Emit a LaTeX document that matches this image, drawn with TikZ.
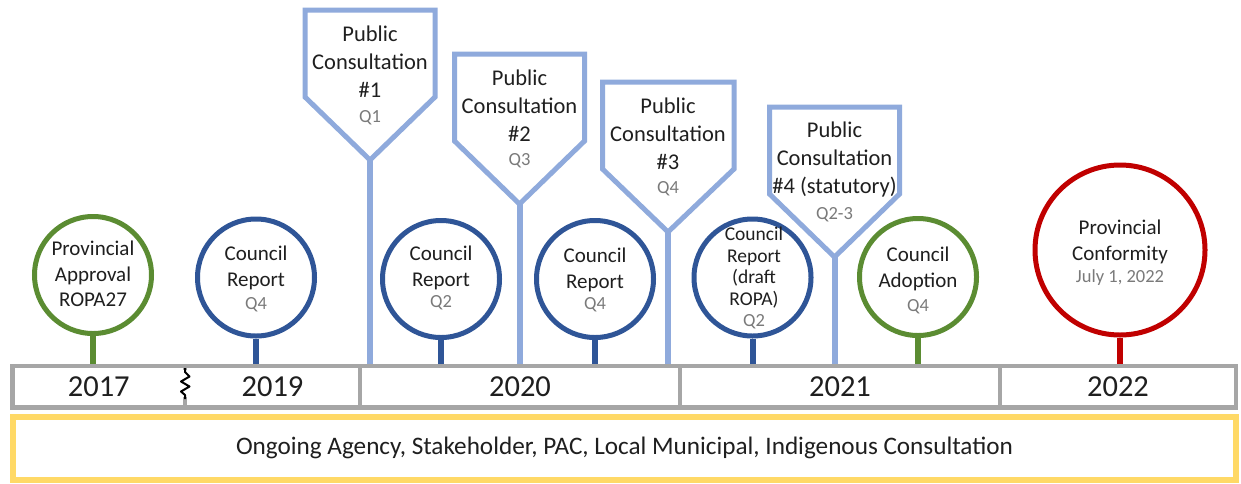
\documentclass[tikz,border=0pt]{standalone}
\usepackage{fontspec}
\setmainfont{Carlito}
\definecolor{cgreen}{HTML}{5B8C32}
\definecolor{cblue}{HTML}{2F5597}
\definecolor{clight}{HTML}{8FAADC}
\definecolor{cred}{HTML}{C00000}
\definecolor{cgray}{HTML}{A6A6A6}
\definecolor{cyellow}{HTML}{FFD966}
\definecolor{ctext}{HTML}{1F1F1F}
\definecolor{csub}{HTML}{7A7A7A}
\begin{document}
\begin{tikzpicture}[x=1pt,y=-1pt,
 ev/.style={circle, draw=#1, line width=5pt, minimum size=117pt, inner sep=0pt, fill=white},
 stemline/.style={draw=#1, line width=6pt},
 pcbox/.style={draw=clight, line width=5pt, fill=white, line join=miter},
 yr/.style={draw=cgray, line width=4.5pt, rectangle, inner sep=0pt, minimum height=41.5pt, font=\fontsize{30.5}{32}\selectfont, text=ctext},
 mt/.style={font=\fontsize{21}{25.5}\selectfont, text=ctext, align=center, inner sep=0pt},
 smt/.style={font=\fontsize{19.5}{21.7}\selectfont, text=ctext, align=center, inner sep=0pt},
 pt/.style={font=\fontsize{22.5}{28}\selectfont, text=ctext, align=center, inner sep=0pt},
 st/.style={font=\fontsize{18.5}{20}\selectfont, text=csub, inner sep=0pt},
]
\useasboundingbox[fill=white] (0,0) rectangle (1241,483);

% year bar
\node[yr, minimum width=172.5pt] (y17) at (98.75,386.75) {2017};
\node[yr, minimum width=175pt] (y19) at (272.5,386.75) {2019};
\node[yr, minimum width=320pt] (y20) at (520,386.75) {2020};
\node[yr, minimum width=320pt] (y21) at (840,386.75) {2021};
\node[yr, minimum width=236pt] (y22) at (1118,386.75) {2022};
% break mark
\fill[white] (182,370) rectangle (188,397);
\draw[black, line width=2pt, line join=round]
  (185,368) -- (185,372) -- (189.5,376.5) -- (181,381.5) -- (189.5,386.5) -- (181,391.5) -- (185,395) -- (185,399);

% ongoing consultation bar
\node[draw=cyellow, line width=6pt, rectangle, minimum width=1223pt, minimum height=63pt, inner sep=0pt,
      font=\fontsize{25.2}{28}\selectfont, text=ctext] (ong) at (624.5,448)
  {Ongoing Agency, Stakeholder, PAC, Local Municipal, Indigenous Consultation};

% public consultation markers
\draw[pcbox] (305,10) -- (435,10) -- (435,97) -- (370,160) -- (305,97) -- cycle;
\coordinate (p1tip) at (370,160);
\draw[pcbox] (454.5,54) -- (584.5,54) -- (584.5,141) -- (519.5,204) -- (454.5,141) -- cycle;
\coordinate (p2tip) at (519.5,204);
\draw[pcbox] (602.5,82) -- (734,82) -- (734,169) -- (668,232) -- (602.5,169) -- cycle;
\coordinate (p3tip) at (668,232);
\draw[pcbox] (769.5,107) -- (899.5,107) -- (899.5,194) -- (834.5,257) -- (769.5,194) -- cycle;
\coordinate (p4tip) at (834.5,257);

\node[pt] (p1t) at (370,62) {Public\\Consultation\\\#1};
\node[st] (p1q) at (370,118) {Q1};
\node[pt] (p2t) at (519.5,106) {Public\\Consultation\\\#2};
\node[st] (p2q) at (519.5,161) {Q3};
\node[pt] (p3t) at (668,134) {Public\\Consultation\\\#3};
\node[st] (p3q) at (668,189) {Q4};
\node[pt] (p4t) at (834.5,159) {Public\\Consultation\\\#4 (statutory)};
\node[st] (p4q) at (834.5,215) {Q2-3};

\draw[stemline=clight] (p1tip) -- (p1tip |- y20.north);
\draw[stemline=clight] (p2tip) -- (p2tip |- y20.north);
\draw[stemline=clight] (p3tip) -- (p3tip |- y20.north);
\draw[stemline=clight] (p4tip) -- (p4tip |- y21.north);

% event circles
\node[ev=cgreen] (c1) at (93,275) {};
\node[ev=cblue] (c2) at (256,277.5) {};
\node[ev=cblue] (c3) at (441,279) {};
\node[ev=cblue] (c4) at (595,279) {};
\node[ev=cblue] (c5) at (752.5,277.5) {};
\node[ev=cgreen] (c6) at (918,277) {};
\node[ev=cred, minimum size=170pt] (c7) at (1120,250) {};

\draw[stemline=cgreen] (c1.south) -- (c1.south |- y17.north);
\draw[stemline=cblue] (c2.south) -- (c2.south |- y19.north);
\draw[stemline=cblue] (c3.south) -- (c3.south |- y20.north);
\draw[stemline=cblue] (c4.south) -- (c4.south |- y20.north);
\draw[stemline=cblue] (c5.south) -- (c5.south |- y21.north);
\draw[stemline=cgreen] (c6.south) -- (c6.south |- y21.north);
\draw[stemline=cred] (c7.south) -- (c7.south |- y22.north);

\node[mt] (c1t) at (93,274) {Provincial\\Approval\\ROPA27};
\node[mt] (c2t) at (256,268) {Council\\Report};
\node[st] (c2q) at (256,305) {Q4};
\node[mt] (c3t) at (441,268) {Council\\Report};
\node[st] (c3q) at (441,303) {Q2};
\node[mt] (c4t) at (595,270) {Council\\Report};
\node[st] (c4q) at (595,305) {Q4};
\node[smt] (c5t) at (754,267.5) {Council\\Report\\(draft\\ROPA)};
\node[st] (c5q) at (754,322) {Q2};
\node[mt] (c6t) at (918,269) {Council\\Adoption};
\node[st] (c6q) at (918,307) {Q4};
\node[mt] (c7t) at (1120,242) {Provincial\\Conformity};
\node[st] (c7q) at (1120,278) {July 1, 2022};
\end{tikzpicture}
\end{document}
